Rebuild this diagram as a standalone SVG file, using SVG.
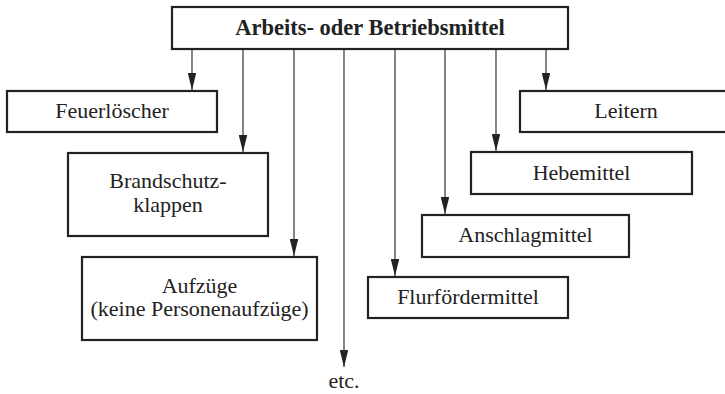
<svg xmlns="http://www.w3.org/2000/svg" width="725" height="394" viewBox="0 0 725 394">
<style>
.box{fill:#fff;stroke:#222;stroke-width:2.2}
.t{font-family:"Liberation Serif","Times New Roman",serif;font-size:22px;fill:#222;text-anchor:middle}
.b{font-weight:bold;font-size:22.5px}
.c{stroke:#333;stroke-width:1.2;fill:none}
</style>
<defs>
<marker id="ah" viewBox="0 0 16 8" refX="16" refY="4" markerWidth="17" markerHeight="8.5" markerUnits="userSpaceOnUse" orient="auto">
<path d="M0,0 L16,4 L0,8 z" fill="#222"/>
</marker>
</defs>
<rect width="725" height="394" fill="#fff"/>
<g id="connectors">
<line class="c" x1="192" y1="49" x2="192" y2="90" marker-end="url(#ah)"/>
<line class="c" x1="243" y1="49" x2="243" y2="152" marker-end="url(#ah)"/>
<line class="c" x1="294" y1="49" x2="294" y2="256" marker-end="url(#ah)"/>
<line class="c" x1="344" y1="49" x2="344" y2="367" marker-end="url(#ah)"/>
<line class="c" x1="395" y1="49" x2="395" y2="276" marker-end="url(#ah)"/>
<line class="c" x1="445" y1="49" x2="445" y2="214" marker-end="url(#ah)"/>
<line class="c" x1="496" y1="49" x2="496" y2="151" marker-end="url(#ah)"/>
<line class="c" x1="546" y1="49" x2="546" y2="90" marker-end="url(#ah)"/>
</g>
<g id="top">
<rect class="box" x="172" y="7" width="396" height="42"/>
<text class="t b" x="370" y="35">Arbeits- oder Betriebsmittel</text>
</g>
<g id="feuerloescher">
<rect class="box" x="7" y="91" width="210" height="41"/>
<text class="t" x="112" y="118">Feuerlöscher</text>
</g>
<g id="brandschutzklappen">
<rect class="box" x="68" y="153" width="200" height="83"/>
<text class="t" x="168" y="188">Brandschutz-</text>
<text class="t" x="168" y="212">klappen</text>
</g>
<g id="aufzuege">
<rect class="box" x="82" y="257" width="235" height="83"/>
<text class="t" x="199.5" y="293">Aufzüge</text>
<text class="t" x="199.5" y="316">(keine Personenaufzüge)</text>
</g>
<g id="etc">
<text class="t" x="344" y="388">etc.</text>
</g>
<g id="flurfoerdermittel">
<rect class="box" x="368" y="277" width="200" height="41"/>
<text class="t" x="468" y="304">Flurfördermittel</text>
</g>
<g id="anschlagmittel">
<rect class="box" x="422" y="215" width="207" height="42"/>
<text class="t" x="525.5" y="242">Anschlagmittel</text>
</g>
<g id="hebemittel">
<rect class="box" x="471" y="152" width="221" height="42"/>
<text class="t" x="581.5" y="180">Hebemittel</text>
</g>
<g id="leitern">
<rect class="box" x="520" y="91" width="212" height="41"/>
<text class="t" x="626" y="118">Leitern</text>
</g>
</svg>
